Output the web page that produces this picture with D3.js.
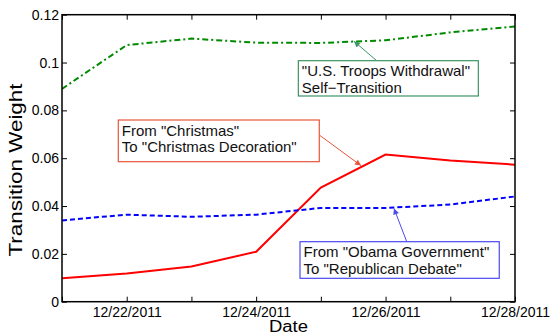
<!DOCTYPE html>
<html>
<head>
<meta charset="utf-8">
<script src="https://cdn.jsdelivr.net/npm/d3@7"></script>
<style>
  html, body { margin: 0; padding: 0; background: #fff; }
  svg { display: block; font-family: "Liberation Sans", Arial, Helvetica, sans-serif; }
</style>
</head>
<body>
<svg id="chart" width="551" height="335"></svg>
<script>
// ---- data ----
const dates = ["2011-12-21","2011-12-22","2011-12-23","2011-12-24","2011-12-25","2011-12-26","2011-12-27","2011-12-28"];
const troopsSelf = [0.0890, 0.1073, 0.1100, 0.1083, 0.1082, 0.1093, 0.1126, 0.1151];
const christmasToDecoration = [0.0098, 0.0118, 0.0147, 0.0209, 0.0477, 0.0615, 0.0590, 0.0573];
const obamaToRepublican = [0.0340, 0.0364, 0.0355, 0.0364, 0.0392, 0.0392, 0.0406, 0.0440];
const yTicks = [0, 0.02, 0.04, 0.06, 0.08, 0.1, 0.12];
const yTickLabels = ["0", "0.02", "0.04", "0.06", "0.08", "0.1", "0.12"];
const xTickLabels = ["12/22/2011", "12/24/2011", "12/26/2011", "12/28/2011"];
const xLabel = "Date";
const yLabel = "Transition Weight";

// annotations: positions in data space (day offset from first date, value)
const annotations = [
  { lines: ["\"U.S. Troops Withdrawal\"", "Self\u2212Transition"], color: "#3d9464",
    box: [3.652, 0.10077, 6.433, 0.08601], tail: [4.863, 0.10077], head: [4.512, 0.10888] },
  { lines: ["From \"Christmas\"", "To \"Christmas Decoration\""], color: "#e8553a",
    box: [0.870, 0.07597, 3.976, 0.05854], tail: [3.976, 0.06970], head: [4.620, 0.05690] },
  { lines: ["From \"Obama Government\"", "To \"Republican Debate\""], color: "#4a4af0",
    box: [3.678, 0.02509, 6.757, 0.00978], tail: [5.327, 0.02509], head: [5.130, 0.03900] }
];

// ---- layout ----
const svg = d3.select("#chart");
const margin = { left: 62, right: 36, top: 14.7, bottom: 33.3 };
const W = 551, H = 335;
const parse = d3.timeParse("%Y-%m-%d");
const xDates = dates.map(parse);
const x = d3.scaleTime().domain([xDates[0], xDates[xDates.length - 1]]).range([margin.left, W - margin.right]);
const y = d3.scaleLinear().domain([0, 0.12]).range([H - margin.bottom, margin.top]);
const dayX = d => x(d3.timeMinute.offset(xDates[0], Math.round(d * 1440)));

const defs = svg.append("defs");
defs.append("clipPath").attr("id", "plotclip").append("rect")
  .attr("x", margin.left).attr("y", margin.top)
  .attr("width", W - margin.left - margin.right).attr("height", H - margin.top - margin.bottom);

// ---- series ----
const series = [
  { values: troopsSelf, color: "#008a00", dash: "6,3,2,3" },
  { values: christmasToDecoration, color: "#ff0000", dash: null },
  { values: obamaToRepublican, color: "#0000ff", dash: "5,3" }
];
const line = d3.line().x(d => x(d[0])).y(d => y(d[1]));
const g = svg.append("g").attr("clip-path", "url(#plotclip)");
series.forEach(s => {
  g.append("path")
    .datum(xDates.map((d, i) => [d, s.values[i]]))
    .attr("d", line)
    .attr("fill", "none")
    .attr("stroke", s.color)
    .attr("stroke-width", 2)
    .attr("stroke-dasharray", s.dash);
});

// ---- axes (box style, ticks inside) ----
const tickLen = 5;
const xTickDates = d3.timeDay.range(xDates[0], d3.timeDay.offset(xDates[xDates.length - 1], 1));
const axBottom = d3.axisBottom(x).tickValues(xTickDates).tickSizeInner(-tickLen).tickSizeOuter(0)
  .tickFormat(d => {
    const s = d3.timeFormat("%m/%d/%Y")(d);
    return xTickLabels.includes(s) ? s : "";
  });
const axTop = d3.axisTop(x).tickValues(xTickDates).tickSizeInner(-tickLen).tickSizeOuter(0).tickFormat("");
const axLeft = d3.axisLeft(y).tickValues(yTicks).tickSizeInner(-tickLen).tickSizeOuter(0)
  .tickFormat((d, i) => yTickLabels[i]);
const axRight = d3.axisRight(y).tickValues(yTicks).tickSizeInner(-tickLen).tickSizeOuter(0).tickFormat("");

function styleAxis(sel) {
  sel.select(".domain").remove();
  sel.selectAll(".tick line").attr("stroke", "#000").attr("stroke-width", 1);
  sel.selectAll(".tick text").attr("fill", "#000").style("font-size", "14px")
    .style("font-family", "'Liberation Sans', Arial, Helvetica, sans-serif");
}
svg.append("g").attr("transform", `translate(0,${H - margin.bottom})`).call(axBottom).call(styleAxis)
  .selectAll(".tick text").attr("y", 5.5).attr("dy", "0.71em");
svg.append("g").attr("transform", `translate(0,${margin.top})`).call(axTop).call(styleAxis);
svg.append("g").attr("transform", `translate(${margin.left},0)`).call(axLeft).call(styleAxis)
  .selectAll(".tick text").attr("x", -3);
svg.append("g").attr("transform", `translate(${W - margin.right},0)`).call(axRight).call(styleAxis);

svg.append("rect")
  .attr("x", margin.left).attr("y", margin.top)
  .attr("width", W - margin.left - margin.right).attr("height", H - margin.top - margin.bottom)
  .attr("fill", "none").attr("stroke", "#000").attr("stroke-width", 1.5);

// ---- axis labels ----
svg.append("text")
  .attr("x", (margin.left + W - margin.right) / 2).attr("y", 332)
  .attr("text-anchor", "middle").style("font-size", "16px")
  .attr("textLength", 39).attr("lengthAdjust", "spacingAndGlyphs")
  .text(xLabel);
svg.append("text")
  .attr("transform", `translate(22,170) rotate(-90)`)
  .attr("text-anchor", "middle").style("font-size", "19px")
  .attr("textLength", 173).attr("lengthAdjust", "spacingAndGlyphs")
  .text(yLabel);

// ---- annotations ----
annotations.forEach(a => {
  const id = "ah" + a.color.slice(1);
  defs.append("marker").attr("id", id)
    .attr("viewBox", "0 0 10 10").attr("refX", 10).attr("refY", 5)
    .attr("markerWidth", 7).attr("markerHeight", 6).attr("markerUnits", "userSpaceOnUse")
    .attr("orient", "auto")
    .append("path").attr("d", "M0,0 L10,5 L0,10 z").attr("fill", a.color);
  svg.append("line")
    .attr("x1", dayX(a.tail[0])).attr("y1", y(a.tail[1]))
    .attr("x2", dayX(a.head[0])).attr("y2", y(a.head[1]))
    .attr("stroke", a.color).attr("stroke-width", 1)
    .attr("marker-end", `url(#${id})`);
  const bx = dayX(a.box[0]), by = y(a.box[1]);
  const bw = dayX(a.box[2]) - bx, bh = y(a.box[3]) - by;
  svg.append("rect").attr("x", bx).attr("y", by).attr("width", bw).attr("height", bh)
    .attr("fill", "#fff").attr("stroke", a.color).attr("stroke-width", 1.2);
  a.lines.forEach((t, i) => {
    svg.append("text").attr("x", bx + 3.5).attr("y", by + 15.5 + i * 16.7)
      .style("font-size", "15px").attr("fill", "#111").text(t);
  });
});
</script>
</body>
</html>
